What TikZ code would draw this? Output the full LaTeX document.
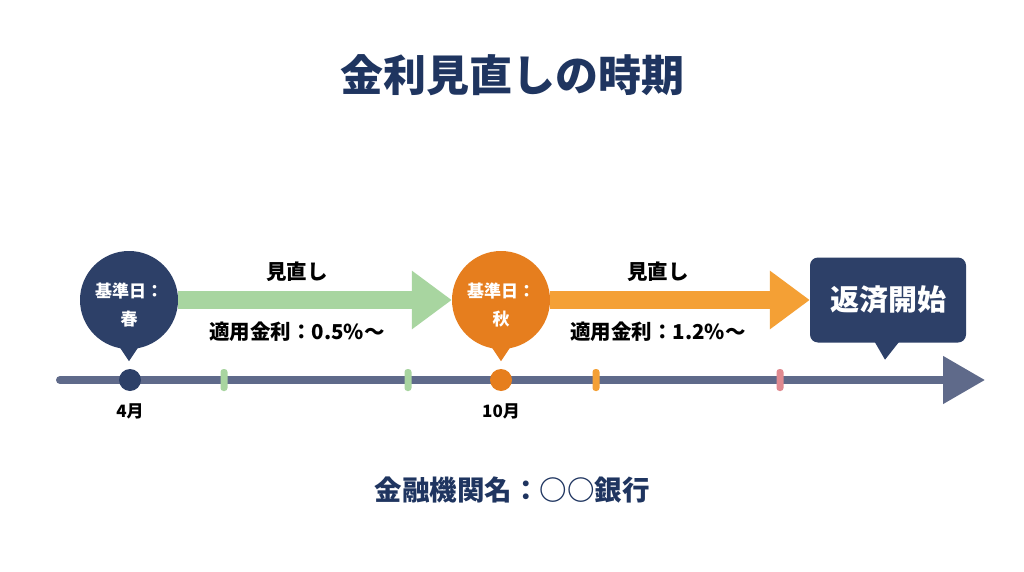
\documentclass[tikz,border=0pt]{standalone}
\usepackage{fontspec}
\setmainfont{Noto Sans CJK JP}
\usepackage{xcolor}
\usetikzlibrary{arrows.meta,calc}
\definecolor{navy}{HTML}{1f3560}
\definecolor{bubblenavy}{HTML}{2d4068}
\definecolor{slate}{HTML}{5f6a8a}
\definecolor{softgreen}{HTML}{a8d5a0}
\definecolor{deeporange}{HTML}{e67e1e}
\definecolor{lightorange}{HTML}{f4a035}
\definecolor{softpink}{HTML}{e08a90}
\tikzset{
	bubble/.style={circle,minimum size=98pt,inner sep=0pt,text=white,align=center,font=\fontsize{17pt}{28pt}\selectfont\bfseries},
	dot/.style={circle,minimum size=22pt,inner sep=0pt},
	tickmark/.style={rounded corners=3pt,minimum width=7pt,minimum height=22pt,inner sep=0pt},
	monthlabel/.style={font=\fontsize{17pt}{19pt}\selectfont\bfseries,text=black},
	plainlabel/.style={font=\fontsize{20.5pt}{23pt}\selectfont\bfseries,text=black},
	bigarrow/.style={line width=18pt,-{Triangle[length=40pt,width=56pt]}}
}

\begin{document}
\begin{tikzpicture}[x=1pt,y=1pt,yscale=-1]
	\useasboundingbox[fill=white] (0,0) rectangle (1024,572);
	\node[font=\fontsize{43pt}{46pt}\selectfont\bfseries,text=navy] (title) at (512,75) {金利見直しの時期};
	\coordinate (linestart) at (60,380);
	\coordinate (lineend) at (985,380);
	\draw[slate,line width=8pt,line cap=round,-{Triangle[length=42pt,width=46pt]}] (linestart) -- (lineend);
	\foreach \x/\c in {224/softgreen,408/softgreen,596/lightorange,780/softpink}
		\node[tickmark,fill=\c] (tick\x) at (\x,380) {};
	\node[dot,fill=bubblenavy] (april) at (130,380) {};
	\node[dot,fill=deeporange] (october) at (501,380) {};
	\node[monthlabel] (aprillabel) at (130,411) {4月};
	\node[monthlabel] (octoberlabel) at (501,411) {10月};
	\node[bubble,fill=bubblenavy] (spring) at (129,300) {};
	\node[bubble,fill=none,anchor=center] (springtext) at (129,305) {基準日：\\春};
	\fill[bubblenavy] ($(spring.south)+(-12,-6)$) -- ($(spring.south)+(12,-6)$) -- ($(spring.south)+(0,12)$) -- cycle;
	\node[bubble,fill=deeporange] (autumn) at (501,300) {};
	\node[bubble,fill=none,anchor=center] (autumntext) at (501,305) {基準日：\\秋};
	\fill[deeporange] ($(autumn.south)+(-12,-6)$) -- ($(autumn.south)+(12,-6)$) -- ($(autumn.south)+(0,12)$) -- cycle;
	\node[rounded corners=8pt,fill=bubblenavy,minimum width=156pt,minimum height=85pt,text=white,font=\fontsize{29pt}{32pt}\selectfont\bfseries] (start) at (888,300) {返済開始};
	\fill[bubblenavy] ($(start.south)+(-14,-2)$) -- ($(start.south)+(12,-2)$) -- ($(start.south)+(-3,17)$) -- cycle;
	\draw[softgreen,bigarrow] (spring.east) -- (autumn.west);
	\draw[lightorange,bigarrow] (autumn.east) -- (start.west);
	\node[plainlabel] (review1) at (297,272) {見直し};
	\node[plainlabel] (rate1) at (297,332) {適用金利：0.5\%〜};
	\node[plainlabel] (review2) at (658,272) {見直し};
	\node[plainlabel] (rate2) at (658,332) {適用金利：1.2\%〜};
	\node[font=\fontsize{27.5pt}{30pt}\selectfont\bfseries,text=navy] (bank) at (512,490) {金融機関名：○○銀行};
\end{tikzpicture}
\end{document}
